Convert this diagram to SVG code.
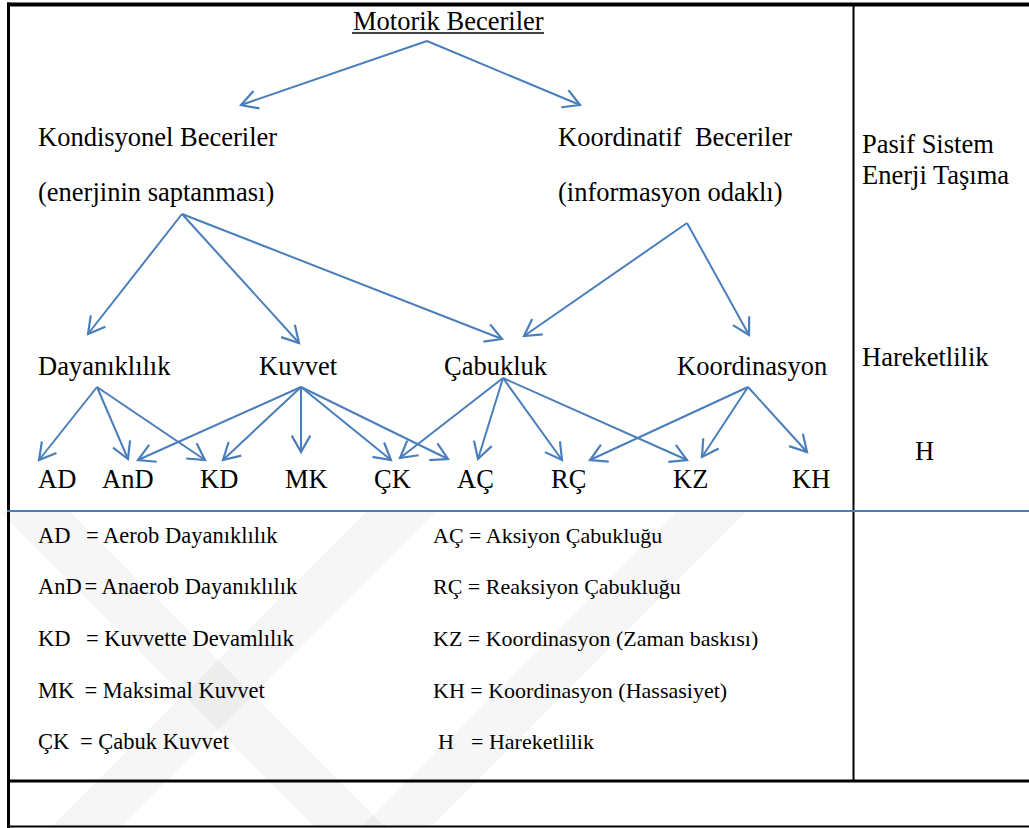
<svg xmlns="http://www.w3.org/2000/svg" width="1029" height="828" viewBox="0 0 1029 828">
<defs>
<style>
.t{font-size:26.5px;fill:#000}
.l{font-size:22.5px;fill:#000}
.r{font-size:22px;fill:#000}
.c{stroke:#4A7EBB;stroke-width:2;fill:none}
.b{stroke:#000;fill:none}
.wm{fill:#000;fill-opacity:0.035}
</style>
<marker id="arr" markerUnits="userSpaceOnUse" markerWidth="24" markerHeight="24" viewBox="-17 -11 20 22" refX="0" refY="0" orient="auto" overflow="visible">
<path d="M-15,-8.5 L0,0 L-15,8.5" fill="none" stroke="#4A7EBB" stroke-width="2"/>
</marker>
</defs>
<rect x="0" y="0" width="1029" height="828" fill="#fff"/>
<g id="watermark">
<polygon class="wm" points="0,512 70,512 386,828 316,828"/>
<polygon class="wm" points="50,828 120,828 436,512 366,512"/>
<polygon class="wm" points="360,828 430,828 746,512 676,512"/>
</g>
<g id="frame">
<line class="b" x1="7" y1="4.5" x2="1029" y2="4.5" stroke-width="4"/>
<line class="b" x1="8.5" y1="2.5" x2="8.5" y2="828" stroke-width="3"/>
<line class="b" x1="853.5" y1="4" x2="853.5" y2="781" stroke-width="2"/>
<line x1="7" y1="511" x2="1029" y2="511" stroke="#4A7EBB" stroke-width="2"/>
<line class="b" x1="8" y1="781" x2="1029" y2="781" stroke-width="3"/>
<line class="b" x1="8" y1="826.5" x2="1029" y2="826.5" stroke-width="2"/>
</g>
<g id="connectors">
<path class="c" marker-end="url(#arr)" d="M427,41 L241,105"/>
<path class="c" marker-end="url(#arr)" d="M427,41 L580,105"/>
<path class="c" marker-end="url(#arr)" d="M182,214 L88,334"/>
<path class="c" marker-end="url(#arr)" d="M182,214 L299,343"/>
<path class="c" marker-end="url(#arr)" d="M182,214 L502,339"/>
<path class="c" marker-end="url(#arr)" d="M687,223 L524,336"/>
<path class="c" marker-end="url(#arr)" d="M687,223 L749,335"/>
<path class="c" marker-end="url(#arr)" d="M97,387 L39,460"/>
<path class="c" marker-end="url(#arr)" d="M97,387 L128,459"/>
<path class="c" marker-end="url(#arr)" d="M97,387 L205,460"/>
<path class="c" marker-end="url(#arr)" d="M301,387 L138,460"/>
<path class="c" marker-end="url(#arr)" d="M301,387 L223,460"/>
<path class="c" marker-end="url(#arr)" d="M301,387 L301,452"/>
<path class="c" marker-end="url(#arr)" d="M301,387 L391,460"/>
<path class="c" marker-end="url(#arr)" d="M301,387 L448,459"/>
<path class="c" marker-end="url(#arr)" d="M503,378 L400,458"/>
<path class="c" marker-end="url(#arr)" d="M503,378 L478,459"/>
<path class="c" marker-end="url(#arr)" d="M503,378 L562,460"/>
<path class="c" marker-end="url(#arr)" d="M503,378 L687,460"/>
<path class="c" marker-end="url(#arr)" d="M748,387 L590,460"/>
<path class="c" marker-end="url(#arr)" d="M748,387 L702,457"/>
<path class="c" marker-end="url(#arr)" d="M748,387 L807,452"/>
</g>
<g font-family="Liberation Serif, Times New Roman, serif">
<g id="motorik">
<text class="t" x="353" y="30">Motorik Beceriler</text>
<line x1="352" y1="33" x2="544" y2="33" stroke="#000" stroke-width="1.5"/>
</g>
<g id="kondisyonel">
<text class="t" x="38" y="146">Kondisyonel Beceriler</text>
<text class="t" x="38" y="201">(enerjinin saptanması)</text>
</g>
<g id="koordinatif">
<text class="t" x="558" y="146" xml:space="preserve">Koordinatif  Beceriler</text>
<text class="t" x="558" y="201">(informasyon odaklı)</text>
</g>
<g id="pasif">
<text class="t" x="862" y="153">Pasif Sistem</text>
<text class="t" x="862" y="184">Enerji Taşıma</text>
</g>
<g id="dayaniklilik"><text class="t" x="38" y="375">Dayanıklılık</text></g>
<g id="kuvvet"><text class="t" x="259" y="375">Kuvvet</text></g>
<g id="cabukluk"><text class="t" x="444" y="375">Çabukluk</text></g>
<g id="koordinasyon"><text class="t" x="677" y="375">Koordinasyon</text></g>
<g id="hareketlilik"><text class="t" x="862" y="366">Hareketlilik</text></g>
<g id="AD"><text class="t" x="38" y="488">AD</text></g>
<g id="AnD"><text class="t" x="102" y="488">AnD</text></g>
<g id="KD"><text class="t" x="200" y="488">KD</text></g>
<g id="MK"><text class="t" x="285" y="488">MK</text></g>
<g id="CK"><text class="t" x="374" y="488">ÇK</text></g>
<g id="AC"><text class="t" x="457" y="488">AÇ</text></g>
<g id="RC"><text class="t" x="551" y="488">RÇ</text></g>
<g id="KZ"><text class="t" x="673" y="488">KZ</text></g>
<g id="KH"><text class="t" x="792" y="488">KH</text></g>
<g id="H"><text class="t" x="915" y="460">H</text></g>
<g id="legend">
<text class="l" y="543"><tspan x="38">AD</tspan><tspan x="86">= Aerob Dayanıklılık</tspan></text>
<text class="l" y="594"><tspan x="38">AnD</tspan><tspan x="84.5">= Anaerob Dayanıklılık</tspan></text>
<text class="l" y="646"><tspan x="38">KD</tspan><tspan x="86">= Kuvvette Devamlılık</tspan></text>
<text class="l" y="698"><tspan x="38">MK</tspan><tspan x="84.5">= Maksimal Kuvvet</tspan></text>
<text class="l" y="749"><tspan x="38">ÇK</tspan><tspan x="80">= Çabuk Kuvvet</tspan></text>
<text class="r" x="433" y="543">AÇ = Aksiyon Çabukluğu</text>
<text class="r" x="433" y="594">RÇ = Reaksiyon Çabukluğu</text>
<text class="r" x="433" y="646">KZ = Koordinasyon (Zaman baskısı)</text>
<text class="r" x="433" y="698">KH = Koordinasyon (Hassasiyet)</text>
<text class="r" y="749"><tspan x="438">H</tspan><tspan x="471">= Hareketlilik</tspan></text>
</g>
</g>
</svg>
